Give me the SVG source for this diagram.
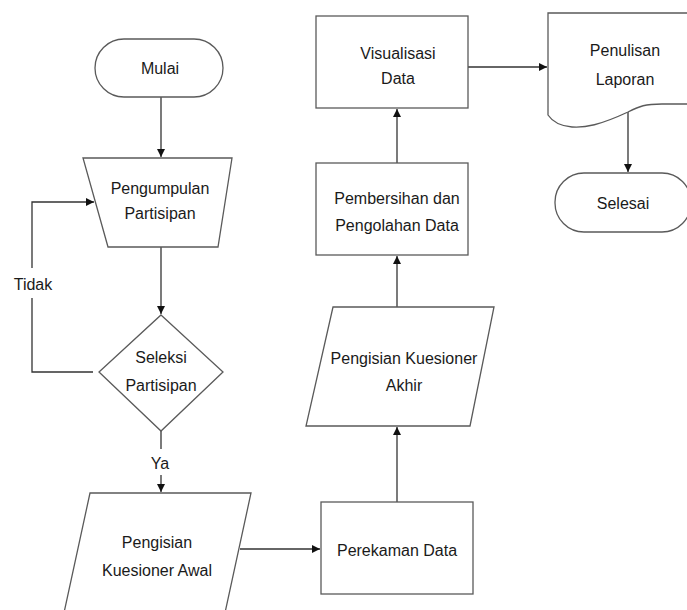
<svg xmlns="http://www.w3.org/2000/svg" width="687" height="610" viewBox="0 0 687 610">
<style>
.s{fill:#fff;stroke:#5a5a5a;stroke-width:1.3}
.c{fill:none;stroke:#333;stroke-width:1.3}
text{font-family:"Liberation Sans",Arial,sans-serif;font-size:16px;fill:#1a1a1a;text-anchor:middle}
</style>
<defs>
<marker id="a" markerWidth="10" markerHeight="10" refX="8" refY="4" orient="auto" markerUnits="userSpaceOnUse">
<path d="M0,0 L8,4 L0,8 z" fill="#111"/>
</marker>
</defs>
<rect width="687" height="610" fill="#fff"/>
<g id="connectors">
<path class="c" d="M161,97 V157" marker-end="url(#a)"/>
<path class="c" d="M161,247 V314" marker-end="url(#a)"/>
<path class="c" d="M93,372 H32 V298"/>
<path class="c" d="M32,268 V202 H94" marker-end="url(#a)"/>
<path class="c" d="M161,431 V449"/>
<path class="c" d="M161,475 V492" marker-end="url(#a)"/>
<path class="c" d="M240,549 H320" marker-end="url(#a)"/>
<path class="c" d="M397,502 V427" marker-end="url(#a)"/>
<path class="c" d="M397,307 V256" marker-end="url(#a)"/>
<path class="c" d="M397,163 V109" marker-end="url(#a)"/>
<path class="c" d="M468,67 H547" marker-end="url(#a)"/>
<path class="c" d="M628,112 V172" marker-end="url(#a)"/>
<text x="33" y="290">Tidak</text>
<text x="160" y="469">Ya</text>
</g>
<g id="mulai">
<rect class="s" x="95" y="39" width="128" height="58" rx="29"/>
<text x="160" y="74">Mulai</text>
</g>
<g id="pengumpulan">
<path class="s" d="M83,158 H232 L218,247 H108 Z"/>
<text x="160" y="194">Pengumpulan</text>
<text x="160" y="219">Partisipan</text>
</g>
<g id="seleksi">
<path class="s" d="M161,315 L223,372 L161,431 L99,372 Z"/>
<text x="161" y="363">Seleksi</text>
<text x="161" y="391">Partisipan</text>
</g>
<g id="kuesioner-awal">
<path class="s" d="M90,493 H251 L223,622 H62 Z"/>
<text x="157" y="548">Pengisian</text>
<text x="157" y="576">Kuesioner Awal</text>
</g>
<g id="perekaman">
<rect class="s" x="321" y="502" width="152" height="92"/>
<text x="397" y="556">Perekaman Data</text>
</g>
<g id="kuesioner-akhir">
<path class="s" d="M333,307 H494 L470,426 H306 Z"/>
<text x="404" y="364">Pengisian Kuesioner</text>
<text x="404" y="391">Akhir</text>
</g>
<g id="pembersihan">
<rect class="s" x="316" y="163" width="152" height="92"/>
<text x="397" y="204">Pembersihan dan</text>
<text x="397" y="231">Pengolahan Data</text>
</g>
<g id="visualisasi">
<rect class="s" x="316" y="16" width="152" height="92"/>
<text x="398" y="59">Visualisasi</text>
<text x="398" y="84">Data</text>
</g>
<g id="penulisan">
<path class="s" d="M548,13 H702 V104 H662 C645,104 640,106 628,112 C600,125 585,128 572,127 C560,126 552,121 548,115 Z"/>
<text x="625" y="56">Penulisan</text>
<text x="625" y="85">Laporan</text>
</g>
<g id="selesai">
<rect class="s" x="555" y="173" width="136" height="59" rx="29"/>
<text x="623" y="209">Selesai</text>
</g>
</svg>
